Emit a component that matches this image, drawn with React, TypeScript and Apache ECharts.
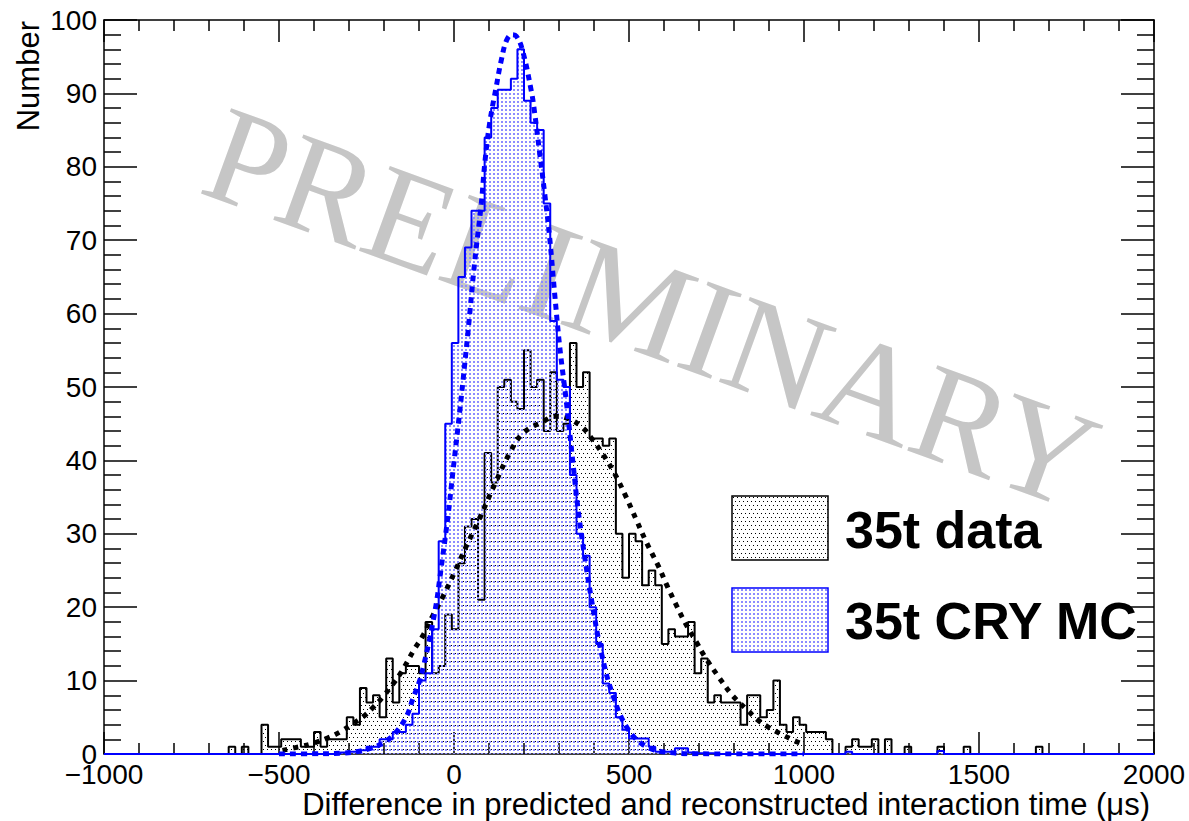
import React, { useEffect, useRef } from 'react';
import * as echarts from 'echarts';

// Histogram binning (160 bins from -1000 to 2000 µs)
const BIN_START = -1000;
const BIN_WIDTH = 18.75;

// 35t data: counts per bin
const DATA_COUNTS = [
  0, 0, 0, 0, 0, 0, 0, 0, 0, 0,
  0, 0, 0, 0, 0, 0, 0, 0, 0, 1,
  0, 1, 0, 0, 4, 1, 1, 2, 2, 2,
  1, 1, 3, 1, 2, 2, 2, 5, 4, 9,
  7, 8, 5, 13, 7, 11, 12, 12, 11, 18,
  11, 12, 19, 17, 26, 31, 32, 21, 41, 37,
  50, 51, 48, 47, 55, 50, 51, 44, 52, 44,
  45, 56, 50, 52, 43, 43, 42, 43, 30, 24,
  30, 29, 23, 25, 23, 15, 17, 16, 16, 18,
  11, 13, 7, 8, 7, 7, 7, 4, 8, 8,
  5, 6, 10, 4, 3, 5, 4, 3, 3, 3,
  2, 0, 0, 1, 2, 1, 1, 2, 0, 2,
  0, 0, 1, 0, 0, 0, 0, 1, 0, 0,
  0, 1, 0, 0, 0, 0, 0, 0, 0, 0,
  0, 0, 1, 0, 0, 0, 0, 0, 0, 0,
  0, 0, 0, 0, 0, 0, 0, 0, 0, 0,
];

// 35t CRY MC: normalised counts per bin
const MC_COUNTS = [
  0, 0, 0, 0, 0, 0, 0, 0, 0, 0,
  0, 0, 0, 0, 0, 0, 0, 0, 0, 0,
  0, 0, 0, 0, 0, 0, 0, 0, 0, 0,
  0, 0, 0, 0, 0, 0, 0.2, 0.3, 0.3, 0.5,
  1, 1, 2, 2, 3, 3, 4, 5.5, 10, 11,
  17, 29, 45, 56, 65, 69, 74, 74, 84, 88,
  90.5, 90.5, 92, 96, 89, 86, 85, 75, 59, 51,
  50, 38, 30, 27, 20, 15, 9.6, 8.3, 5, 3.3,
  2.1, 2.1, 2.1, 1, 0.3, 0.3, 0.3, 0.8, 0.8, 0.2,
  0.1, 0.1, 0.1, 0, 0, 0, 0, 0, 0, 0,
  0, 0, 0, 0, 0, 0, 0, 0, 0, 0,
  0, 0, 0, 0.3, 0, 0, 0, 0, 0, 0,
  0, 0, 0, 0, 0, 0, 0, 0.4, 0, 0,
  0, 0, 0, 0, 0, 0, 0, 0, 0, 0,
  0, 0, 0, 0, 0, 0, 0, 0, 0, 0,
  0, 0, 0, 0, 0, 0, 0, 0, 0, 0,
];

const DATA_FIT_X = [-490, -440, -400, -360, -326, -290, -259, -230, -203, -175, -150, -113, -89, -60, -31, 2, 35, 73, 116, 159, 197, 255, 290, 326, 364, 393, 430, 459, 490, 521, 550, 583, 610, 635, 660, 692, 716, 759, 790, 807, 840, 869, 900, 931, 960, 983, 1000];
const DATA_FIT_Y = [0.5, 1.0, 1.5, 2.2, 3.0, 4.1, 5.1, 6.4, 7.8, 9.5, 11.2, 14.3, 16.1, 18.9, 21.5, 24.8, 28.3, 32.1, 36.7, 41.0, 43.7, 45.3, 46.0, 45.7, 44.6, 43.0, 40.5, 38.2, 35.2, 31.9, 28.8, 25.7, 22.8, 20.3, 17.9, 15.3, 13.3, 10.3, 8.3, 7.4, 5.9, 4.6, 3.6, 2.8, 2.1, 1.6, 1.3];

const MC_FIT_X = [-500, -400, -320, -280, -236, -200, -169, -136, -117, -98, -87, -69, -60, -49, -41, -17, -3, 16, 26, 40, 59, 78, 88, 102, 121, 135, 150, 165, 178, 195, 221, 230, 245, 259, 273, 288, 302, 321, 340, 354, 373, 393, 421, 454, 497, 550, 616, 700, 1000];
const MC_FIT_Y = [0, 0.02, 0.1, 0.3, 0.8, 1.6, 2.8, 5.1, 7.6, 10, 12, 15.8, 18, 21, 23.8, 32.5, 38.5, 46.5, 51, 57.5, 67, 75, 80.5, 86, 91, 94.5, 97.2, 98, 97.8, 96, 90.3, 87.5, 81.8, 76.4, 70.5, 62.5, 55.5, 48, 39.6, 33.5, 27, 21, 13.8, 8, 3.4, 1.0, 0.2, 0.02, 0];

// Axes
const X_MIN = -1000;
const X_MAX = 2000;
const X_STEP = 500;
const Y_MIN = 0;
const Y_MAX = 100;
const Y_STEP = 10;

// Texts
const SERIES_NAMES = ['35t data', '35t CRY MC'];
const X_TITLE = 'Difference in predicted and reconstructed interaction time (\u03bcs)';
const Y_TITLE = 'Number';
const WATERMARK = 'PRELIMINARY';

const SANS = '"Liberation Sans", Arial, Helvetica, sans-serif';
const SERIF = '"Liberation Serif", "Times New Roman", serif';

function histPoints(counts: number[]) {
  const pts: number[][] = counts.map((c, i) => [BIN_START + i * BIN_WIDTH, c]);
  pts.push([BIN_START + counts.length * BIN_WIDTH, counts[counts.length - 1]]);
  return pts;
}

function zip(xs: number[], ys: number[]) {
  return xs.map((x, i) => [x, ys[i]]);
}

function dotPattern(color: string, w: number, h: number, dots: number[][], size: number) {
  const c = document.createElement('canvas');
  c.width = w;
  c.height = h;
  const ctx = c.getContext('2d');
  if (ctx) {
    ctx.fillStyle = color;
    dots.forEach(([x, y]) => ctx.fillRect(x, y, size, size));
  }
  return { image: c, repeat: 'repeat', imageWidth: w, imageHeight: h } as any;
}

export default function App() {
  const ref = useRef<HTMLDivElement>(null);

  useEffect(() => {
    if (!ref.current) return;
    const chart = echarts.init(ref.current, undefined, { renderer: 'svg' });

    const makeBlack = () => dotPattern('#000000', 4, 8, [[1, 1], [3, 5]], 1);
    const makeBlue = () => dotPattern('#8c8cff', 4, 4, [[1, 1]], 2);

    const tickStyle = { color: '#000', width: 1.5 };
    const xLabelFmt = (v: number) => (v < 0 ? '\u2212' + Math.abs(v) : String(v));

    const xAxisBase = {
      type: 'value',
      min: X_MIN,
      max: X_MAX,
      interval: X_STEP,
      axisLine: { show: true, onZero: false, lineStyle: tickStyle },
      axisTick: { show: true, inside: true, length: 22, lineStyle: tickStyle },
      minorTick: { show: true, splitNumber: 5, length: 11, lineStyle: tickStyle },
      splitLine: { show: false },
      minorSplitLine: { show: false },
    };
    const yAxisBase = {
      type: 'value',
      min: Y_MIN,
      max: Y_MAX,
      interval: Y_STEP,
      axisLine: { show: true, onZero: false, lineStyle: tickStyle },
      axisTick: { show: true, inside: true, length: 33, lineStyle: tickStyle },
      minorTick: { show: true, splitNumber: 5, length: 17, lineStyle: tickStyle },
      splitLine: { show: false },
      minorSplitLine: { show: false },
    };

    const option: any = {
      animation: false,
      backgroundColor: '#ffffff',
      grid: { left: 104, right: 35, top: 20, bottom: 67, containLabel: false, outerBoundsMode: 'none' },
      xAxis: [
        {
          ...xAxisBase,
          position: 'bottom',
          axisLabel: { show: true, fontSize: 28, color: '#000', fontFamily: SANS, margin: 6, formatter: xLabelFmt },
        },
        { ...xAxisBase, position: 'top', axisLabel: { show: false } },
      ],
      yAxis: [
        {
          ...yAxisBase,
          position: 'left',
          axisLabel: { show: true, fontSize: 28, color: '#000', fontFamily: SANS, margin: 7 },
        },
        { ...yAxisBase, position: 'right', axisLabel: { show: false } },
      ],
      series: [
        {
          name: SERIES_NAMES[0],
          type: 'line',
          xAxisIndex: 0,
          yAxisIndex: 0,
          step: 'end',
          symbol: 'none',
          data: histPoints(DATA_COUNTS),
          lineStyle: { color: '#000000', width: 2 },
          areaStyle: { color: makeBlack(), opacity: 1 },
          z: 2,
        },
        {
          name: SERIES_NAMES[1],
          type: 'line',
          xAxisIndex: 0,
          yAxisIndex: 0,
          step: 'end',
          symbol: 'none',
          data: histPoints(MC_COUNTS),
          lineStyle: { color: '#0000ff', width: 2 },
          areaStyle: { color: makeBlue(), opacity: 1 },
          z: 3,
        },
        {
          name: 'data fit',
          type: 'line',
          xAxisIndex: 0,
          yAxisIndex: 0,
          smooth: 0.4,
          symbol: 'none',
          data: zip(DATA_FIT_X, DATA_FIT_Y),
          lineStyle: { color: '#000000', width: 5, type: [5, 6], cap: 'butt' },
          z: 4,
        },
        {
          name: 'MC fit',
          type: 'line',
          xAxisIndex: 0,
          yAxisIndex: 0,
          smooth: 0.4,
          symbol: 'none',
          data: zip(MC_FIT_X, MC_FIT_Y),
          lineStyle: { color: '#0000ff', width: 5, type: [6, 5], cap: 'butt' },
          z: 5,
        },
      ],
      graphic: [
        {
          type: 'text',
          x: 652,
          y: 308,
          rotation: (-20 * Math.PI) / 180,
          z: 1,
          silent: true,
          style: {
            text: WATERMARK,
            fontFamily: SERIF,
            fontSize: 138,
            fill: '#c6c6c6',
            align: 'center',
            verticalAlign: 'middle',
          },
        },
        {
          type: 'text',
          x: 28,
          y: 21,
          rotation: Math.PI / 2,
          z: 10,
          style: {
            text: Y_TITLE,
            fontFamily: SANS,
            fontSize: 31,
            fill: '#000',
            align: 'right',
            verticalAlign: 'middle',
          },
        },
        {
          type: 'text',
          x: 1150,
          y: 804,
          z: 10,
          style: {
            text: X_TITLE,
            fontFamily: SANS,
            fontSize: 31,
            fill: '#000',
            align: 'right',
            verticalAlign: 'middle',
          },
        },
        {
          type: 'rect',
          z: 10,
          shape: { x: 732, y: 496, width: 96, height: 64 },
          style: { fill: makeBlack(), stroke: '#000000', lineWidth: 1.5 },
        },
        {
          type: 'rect',
          z: 10,
          shape: { x: 732, y: 588, width: 96, height: 64 },
          style: { fill: makeBlue(), stroke: '#0000ff', lineWidth: 1.5 },
        },
        {
          type: 'text',
          x: 845,
          y: 530,
          z: 10,
          style: {
            text: SERIES_NAMES[0],
            fontFamily: SANS,
            fontWeight: 'bold',
            fontSize: 52,
            fill: '#000',
            align: 'left',
            verticalAlign: 'middle',
          },
        },
        {
          type: 'text',
          x: 845,
          y: 621,
          z: 10,
          style: {
            text: SERIES_NAMES[1],
            fontFamily: SANS,
            fontWeight: 'bold',
            fontSize: 52,
            fill: '#000',
            align: 'left',
            verticalAlign: 'middle',
          },
        },
      ],
    };

    chart.setOption(option);
    return () => {
      chart.dispose();
    };
  }, []);

  return (
    <div
      ref={ref}
      style={{ position: 'fixed', left: 0, top: 0, width: 1189, height: 821, background: '#fff' }}
    />
  );
}
